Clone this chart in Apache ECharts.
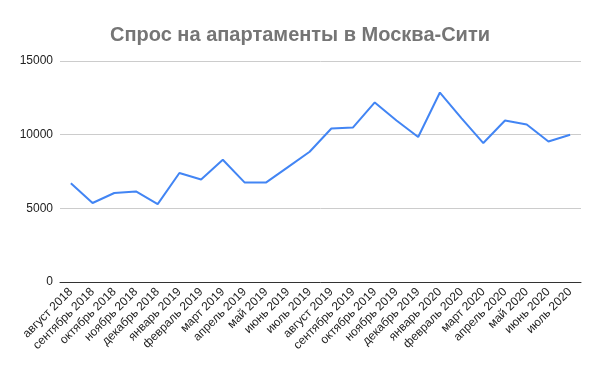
<!DOCTYPE html>
<html>
<head>
<meta charset="utf-8">
<script src="https://cdn.jsdelivr.net/npm/echarts@6/dist/echarts.min.js"></script>
<style>
html,body{margin:0;padding:0;background:#fff;}
#chart{width:600px;height:371px;}
</style>
</head>
<body>
<div id="chart"></div>
<script>
var title = 'Спрос на апартаменты в Москва-Сити';
var categories = ['август 2018','сентябрь 2018','октябрь 2018','ноябрь 2018','декабрь 2018',
  'январь 2019','февраль 2019','март 2019','апрель 2019','май 2019','июнь 2019','июль 2019',
  'август 2019','сентябрь 2019','октябрь 2019','ноябрь 2019','декабрь 2019',
  'январь 2020','февраль 2020','март 2020','апрель 2020','май 2020','июнь 2020','июль 2020'];
var demand = [6700, 5360, 6040, 6150, 5290, 7400, 6960, 8300, 6760, 6760, 7800, 8840,
  10420, 10490, 12190, 10960, 9840, 12860, 11110, 9430, 10960, 10690, 9540, 9990];
var yTicks = [0, 5000, 10000, 15000];

var chart = echarts.init(document.getElementById('chart'), null, {renderer: 'canvas'});
chart.setOption({
  animation: false,
  backgroundColor: '#ffffff',
  title: {
    text: title,
    left: 'center',
    top: 20,
    textStyle: {fontFamily: 'Liberation Sans, Arial, sans-serif', fontSize: 20, fontWeight: 'bold', color: '#757575'}
  },
  grid: {left: 60, right: 19, top: 61, bottom: 89, containLabel: false, outerBoundsMode: 'none'},
  xAxis: {
    type: 'category',
    data: categories,
    boundaryGap: true,
    axisLine: {show: true, lineStyle: {color: '#333333', width: 1}},
    axisTick: {show: false},
    axisLabel: {
      interval: 0,
      rotate: 45,
      margin: 8,
      color: '#222222',
      fontFamily: 'Liberation Sans, Arial, sans-serif',
      fontSize: 12
    },
    splitLine: {show: false}
  },
  yAxis: {
    type: 'value',
    min: yTicks[0],
    max: yTicks[yTicks.length - 1],
    interval: 5000,
    axisLine: {show: false},
    axisTick: {show: false},
    axisLabel: {
      margin: 7,
      color: '#222222',
      fontFamily: 'Liberation Sans, Arial, sans-serif',
      fontSize: 12,
      formatter: function (v) { return String(v); }
    },
    splitLine: {lineStyle: {color: '#cccccc', width: 1}}
  },
  series: [{
    type: 'line',
    data: demand,
    showSymbol: false,
    symbol: 'none',
    lineStyle: {color: '#4285f4', width: 2},
    itemStyle: {color: '#4285f4'}
  }]
});
</script>
</body>
</html>
